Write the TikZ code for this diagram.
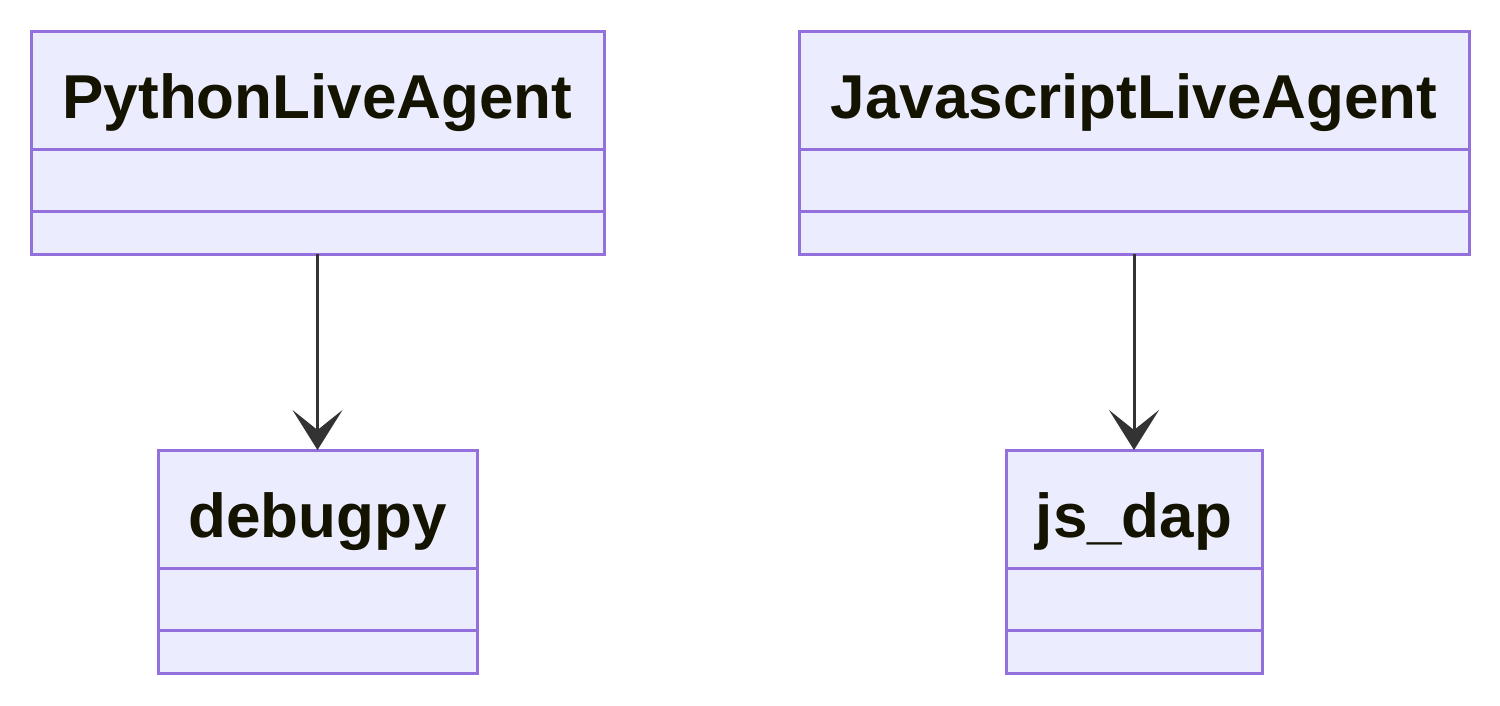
\documentclass[tikz,border=0pt]{standalone}
\usepackage{fontspec}
\setmainfont{Liberation Sans}
\usetikzlibrary{arrows.meta,positioning}
\definecolor{ClassFill}{HTML}{ECECFF}
\definecolor{ClassLine}{HTML}{9370DB}
\definecolor{ClassText}{HTML}{131300}
\definecolor{Link}{HTML}{333333}

\begin{document}
\begin{tikzpicture}[x=1pt,y=1pt,
    title/.style={rectangle,draw=ClassLine,fill=ClassFill,line width=3pt,outer sep=0pt,inner sep=0pt,minimum height=118pt,text height=56pt,text depth=0pt,text=ClassText,font=\fontsize{62}{74}\selectfont\bfseries},
    attrs/.style={rectangle,draw=ClassLine,fill=ClassFill,line width=3pt,outer sep=0pt,inner sep=0pt,minimum height=62pt},
    ops/.style={attrs,minimum height=43pt},
    dep/.style={-{Stealth[length=40pt,width=50pt,inset=20pt]},line width=3pt,draw=Link}
]
\useasboundingbox (0,0) rectangle (1500,-705);
\node[title,minimum width=573pt] (python) at (317.5,-90) {PythonLiveAgent};
\node[attrs,minimum width=573pt,below=0pt of python] (pythonattrs) {};
\node[ops,minimum width=573pt,below=0pt of pythonattrs] (pythonops) {};
\node[title,minimum width=670pt,right=195pt of python] (js) {JavascriptLiveAgent};
\node[attrs,minimum width=670pt,below=0pt of js] (jsattrs) {};
\node[ops,minimum width=670pt,below=0pt of jsattrs] (jsops) {};
\node[title,minimum width=319pt,below=196pt of pythonops] (debugpy) {debugpy};
\node[attrs,minimum width=319pt,below=0pt of debugpy] (debugpyattrs) {};
\node[ops,minimum width=319pt,below=0pt of debugpyattrs] (debugpyops) {};
\node[title,minimum width=256pt,below=196pt of jsops] (jsdap) {js\_dap};
\node[attrs,minimum width=256pt,below=0pt of jsdap] (jsdapattrs) {};
\node[ops,minimum width=256pt,below=0pt of jsdapattrs] (jsdapops) {};
\draw[dep] (pythonops) -- (debugpy);
\draw[dep] (jsops) -- (jsdap);
\end{tikzpicture}
\end{document}
